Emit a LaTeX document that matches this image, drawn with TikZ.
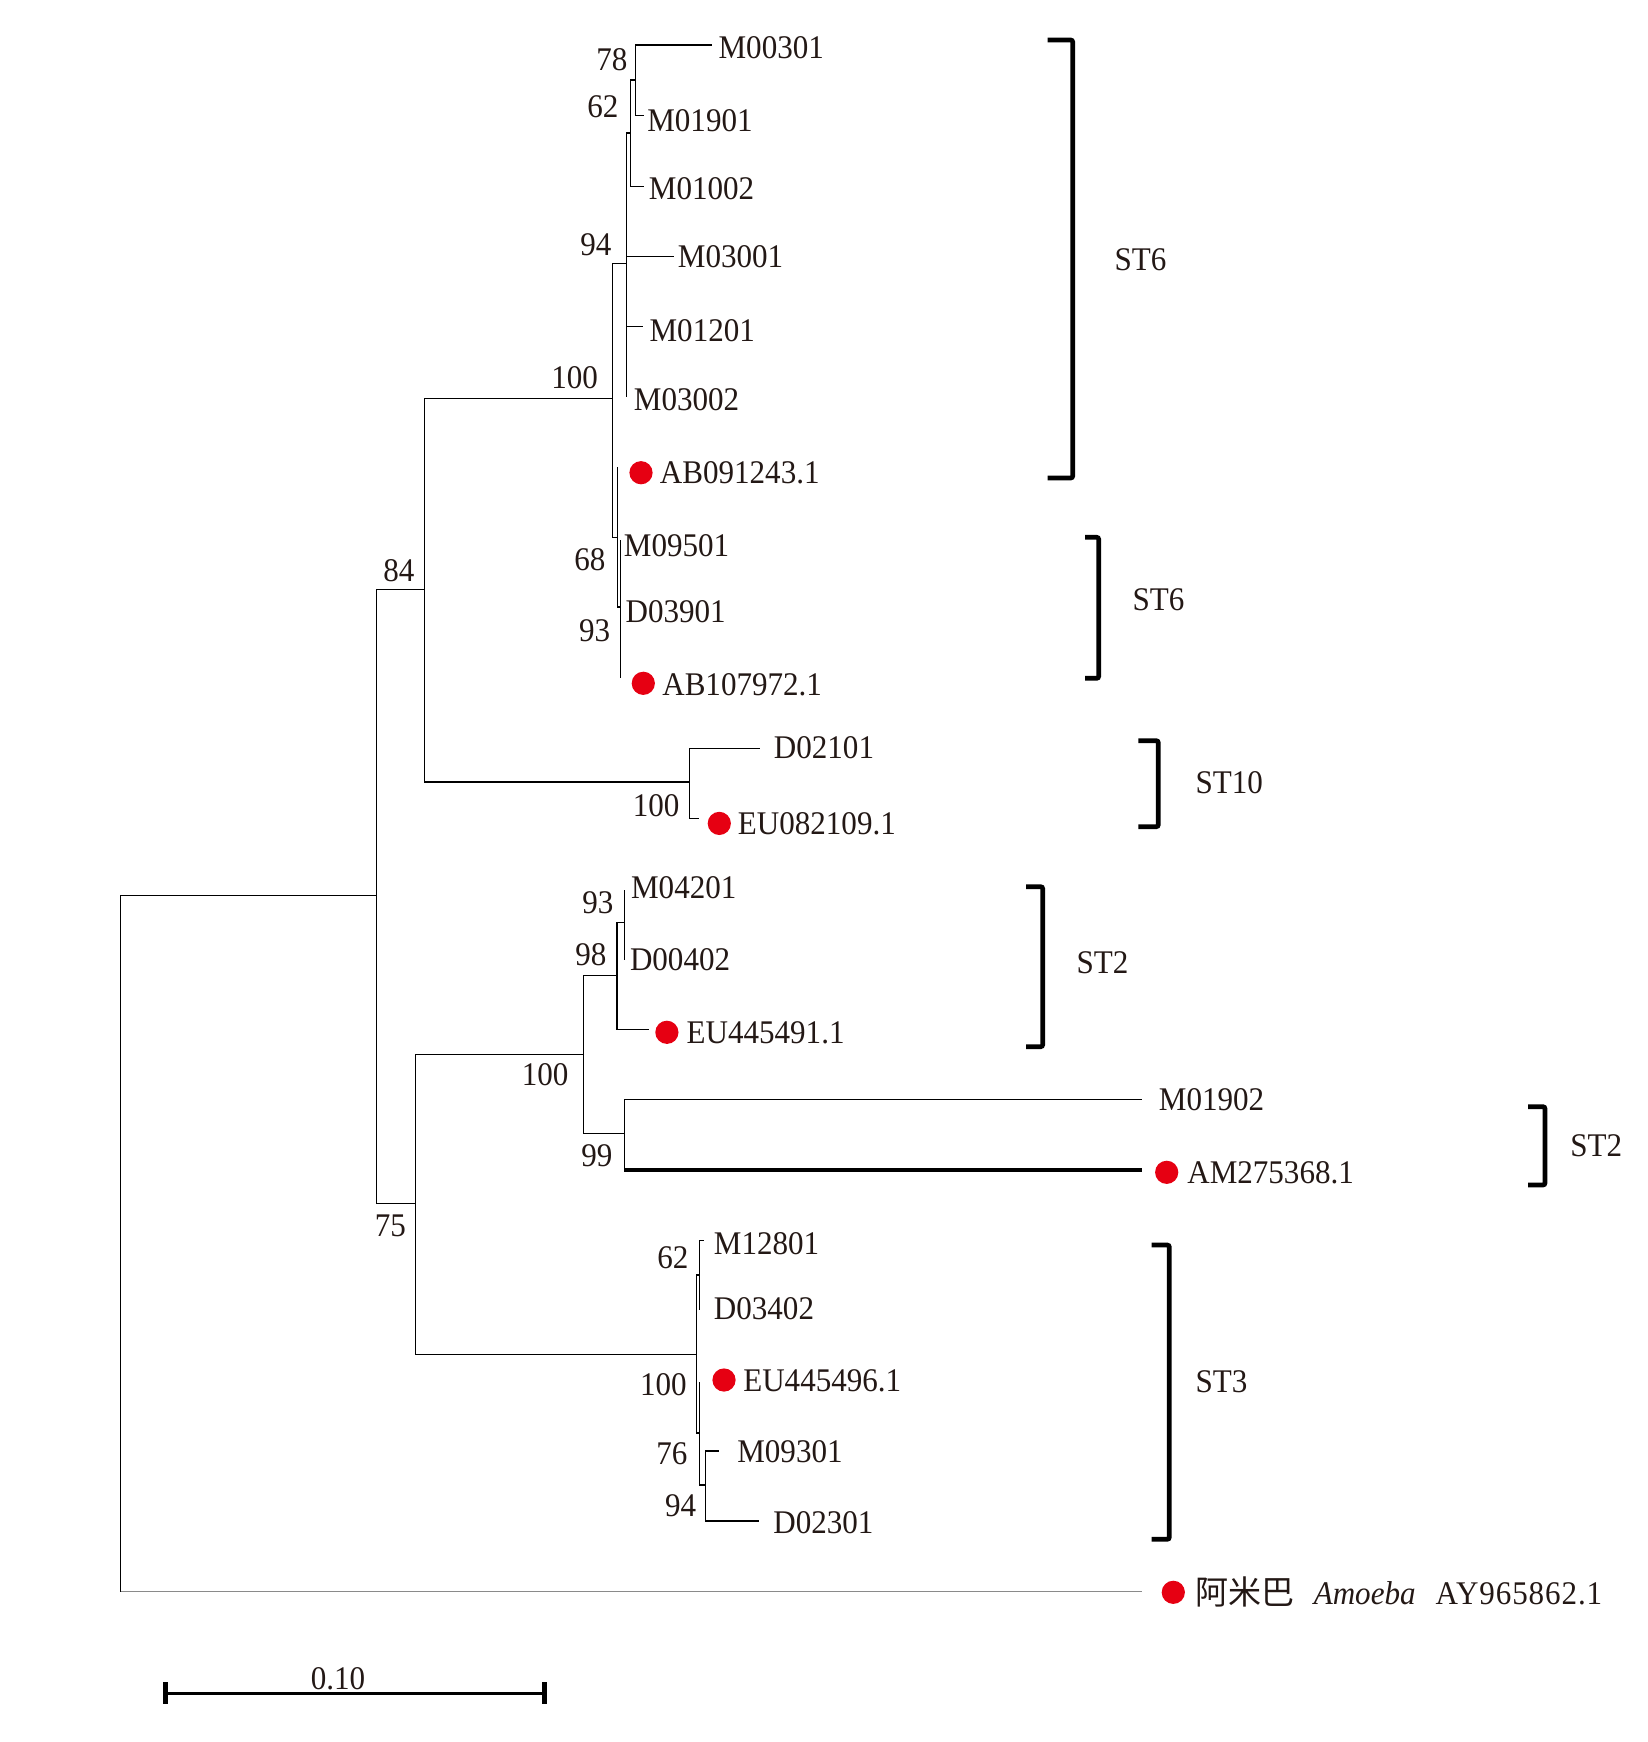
\documentclass[tikz,border=0pt]{standalone}
\usepackage{fontspec}
\setmainfont{Liberation Serif}[FakeStretch=0.94]
\newfontfamily\cjk{Noto Sans CJK SC}
\usetikzlibrary{positioning}
\definecolor{txt}{HTML}{231815}
\definecolor{dotred}{HTML}{E60012}
\definecolor{outgray}{HTML}{8A8A8A}

\begin{document}
\begin{tikzpicture}[x=0.01cm, y=-0.01cm, line width=0.35pt,
    every node/.style={inner sep=0pt, text=txt, font=\fontsize{9.4}{11}\selectfont},
    leaf/.style={anchor=base west},
    boot/.style={anchor=base east},
    dot/.style={circle, fill=dotred, minimum size=2.32mm},
    clade/.style={line width=1.35pt, rounded corners=0.6pt},
    thickbranch/.style={line width=1.1pt}]
  \useasboundingbox (0,0) rectangle (1647,1742);

  % internal nodes
  \coordinate (rt) at (120.5,1243);
  \coordinate (nA) at (376.7,895.4);
  \coordinate (n84) at (424.4,589.6);
  \coordinate (n100a) at (612.7,398.5);
  \coordinate (n94) at (626.7,263.3);
  \coordinate (n62) at (630.7,133);
  \coordinate (n78) at (635.7,80);
  \coordinate (n68) at (617.3,537.3);
  \coordinate (n93) at (620.7,607);
  \coordinate (n100c) at (689.3,782);
  \coordinate (n75) at (415.8,1203.3);
  \coordinate (n100d) at (583.4,1054.3);
  \coordinate (n98) at (617.1,975.7);
  \coordinate (n93b) at (624.4,922.3);
  \coordinate (n99) at (624.4,1133.3);
  \coordinate (n100e) at (696.7,1354.3);
  \coordinate (n62b) at (699.3,1275);
  \coordinate (n76) at (699.3,1433);
  \coordinate (n94b) at (705.3,1485);

  % branch tips
  \coordinate (eM00301) at (712,45);
  \coordinate (eM01901) at (644,115.7);
  \coordinate (eM01002) at (644,186.7);
  \coordinate (eM03001) at (674,256.7);
  \coordinate (eM01201) at (643.3,326.7);
  \coordinate (eM03002) at (626.7,396.7);
  \coordinate (eAB091243) at (617.3,467.3);
  \coordinate (eM09501) at (620.7,540);
  \coordinate (eAB107972) at (620.7,678);
  \coordinate (eD02101) at (760,748.3);
  \coordinate (eEU082109) at (699.3,818.3);
  \coordinate (eM04201) at (624.4,890);
  \coordinate (eD00402) at (624.4,960);
  \coordinate (eEU445491) at (649.3,1029.3);
  \coordinate (eM01902) at (1141.7,1099.3);
  \coordinate (eAM275368) at (1141.7,1170);
  \coordinate (eM12801) at (704,1240.7);
  \coordinate (eD03402) at (699.3,1310);
  \coordinate (eEU445496) at (699.3,1381.7);
  \coordinate (eM09301) at (719.3,1451);
  \coordinate (eD02301) at (759.3,1521);
  \coordinate (eAY965862) at (1141.7,1591.7);

  % branches
  \draw (rt) |- (nA);
  \draw (rt) -- (rt |- eAY965862);
  \draw[outgray] (rt |- eAY965862) -- (eAY965862);
  \draw (nA) |- (n84) (nA) |- (n75);
  \draw (n84) |- (n100a) (n84) |- (n100c);
  \draw (n100a) |- (n94) (n100a) |- (n68);
  \draw (n94) |- (n62) (n94) |- (eM03001) (n94) |- (eM01201) (n94) |- (eM03002);
  \draw (n62) |- (n78) (n62) |- (eM01002);
  \draw (n78) |- (eM00301) (n78) |- (eM01901);
  \draw (n68) |- (eAB091243) (n68) |- (n93);
  \draw (n93) |- (eM09501) (n93) |- (eAB107972);
  \draw (n100c) |- (eD02101) (n100c) |- (eEU082109);
  \draw (n75) |- (n100d) (n75) |- (n100e);
  \draw (n100d) |- (n98) (n100d) |- (n99);
  \draw (n98) |- (n93b) (n98) |- (eEU445491);
  \draw (n93b) |- (eM04201) (n93b) |- (eD00402);
  \draw (n99) |- (eM01902) (n99) -- (n99 |- eAM275368);
  \draw[thickbranch] (n99 |- eAM275368) -- (eAM275368);
  \draw (n100e) |- (n62b) (n100e) |- (n76);
  \draw (n62b) |- (eM12801) (n62b) |- (eD03402);
  \draw (n76) |- (eEU445496) (n76) |- (n94b);
  \draw (n94b) |- (eM09301) (n94b) |- (eD02301);

  % bootstrap values
  \node[boot] (b78) at (628,70) {78};
  \node[boot] (b62) at (619,117) {62};
  \node[boot] (b94) at (612,255) {94};
  \node[boot] (b100a) at (598.6,388) {100};
  \node[boot] (b68) at (606,570) {68};
  \node[boot] (b93) at (610.7,641.7) {93};
  \node[boot] (b84) at (415,581.5) {84};
  \node[boot] (b100c) at (680,816.7) {100};
  \node[boot] (b93b) at (614,913.3) {93};
  \node[boot] (b98) at (607,965.7) {98};
  \node[boot] (b100d) at (569,1085) {100};
  \node[boot] (b99) at (613,1166.7) {99};
  \node[boot] (b75) at (406.6,1236.7) {75};
  \node[boot] (b62b) at (689,1268.3) {62};
  \node[boot] (b100e) at (687.3,1395.7) {100};
  \node[boot] (b76) at (688,1464.3) {76};
  \node[boot] (b94b) at (696.7,1516.7) {94};

  % taxa
  \node[leaf] (tM00301) at (718,58) {M00301};
  \node[leaf] (tM01901) at (646.7,131) {M01901};
  \node[leaf] (tM01002) at (648.3,199) {M01002};
  \node[leaf] (tM03001) at (677.3,267.7) {M03001};
  \node[leaf] (tM01201) at (649,341.7) {M01201};
  \node[leaf] (tM03002) at (633.3,410) {M03002};
  \node[dot] (dAB091243) at (641,472.7) {};
  \node[leaf] (tAB091243) at (659.3,483.3) {AB091243.1};
  \node[leaf] (tM09501) at (623.3,556.7) {M09501};
  \node[leaf] (tD03901) at (625,622.7) {D03901};
  \node[dot] (dAB107972) at (643.3,683.3) {};
  \node[leaf] (tAB107972) at (661.7,695) {AB107972.1};
  \node[leaf] (tD02101) at (773.3,758.3) {D02101};
  \node[dot] (dEU082109) at (719.3,823.4) {};
  \node[leaf] (tEU082109) at (737.3,834) {EU082109.1};
  \node[leaf] (tM04201) at (630.5,898.3) {M04201};
  \node[leaf] (tD00402) at (629.4,970.7) {D00402};
  \node[dot] (dEU445491) at (666.9,1032.3) {};
  \node[leaf] (tEU445491) at (686,1043.3) {EU445491.1};
  \node[leaf] (tM01902) at (1158.3,1110.7) {M01902};
  \node[dot] (dAM275368) at (1166.7,1172.3) {};
  \node[leaf] (tAM275368) at (1186.7,1183.3) {AM275368.1};
  \node[leaf] (tM12801) at (713.3,1254.3) {M12801};
  \node[leaf] (tD03402) at (713.3,1319.3) {D03402};
  \node[dot] (dEU445496) at (724,1380) {};
  \node[leaf] (tEU445496) at (742.7,1391.7) {EU445496.1};
  \node[leaf] (tM09301) at (736.7,1462.3) {M09301};
  \node[leaf] (tD02301) at (772.7,1533.3) {D02301};
  \node[dot] (dAY965862) at (1173.3,1592.3) {};
  \node[leaf] (tAY965862) at (1195,1604) {{\cjk 阿米巴}\hspace{1.9mm}\textit{Amoeba}\hspace{2mm}{\addfontfeature{LetterSpace=2.7}AY965862.1}};

  % subtype brackets
  \draw[clade] (1047.7,40) -- (1072.7,40) -- (1072.7,478) -- (1047.7,478);
  \node[leaf] (st6a) at (1114,270.7) {ST6};
  \draw[clade] (1085,537.3) -- (1098.7,537.3) -- (1098.7,678.3) -- (1085,678.3);
  \node[leaf] (st6b) at (1132,610) {ST6};
  \draw[clade] (1138.3,740.7) -- (1158.3,740.7) -- (1158.3,826.7) -- (1138.3,826.7);
  \node[leaf] (st10) at (1195,793.3) {ST10};
  \draw[clade] (1026,886.7) -- (1042.7,886.7) -- (1042.7,1046.7) -- (1026,1046.7);
  \node[leaf] (st2a) at (1076,973.3) {ST2};
  \draw[clade] (1528,1106.7) -- (1545,1106.7) -- (1545,1185) -- (1528,1185);
  \node[leaf] (st2b) at (1569.8,1156.7) {ST2};
  \draw[clade] (1151.7,1245) -- (1169.3,1245) -- (1169.3,1539.3) -- (1151.7,1539.3);
  \node[leaf] (st3) at (1195,1392.7) {ST3};

  % scale bar
  \coordinate (sbL) at (165.5,1693.3);
  \coordinate (sbR) at (544.5,1693.3);
  \draw[line width=0.95pt] (sbL) -- (sbR);
  \draw[line width=1.35pt] (165.5,1682.3) -- (165.5,1704) (544.5,1682.3) -- (544.5,1704);
  \node[anchor=base] (tScale) at (338,1689.3) {0.10};
\end{tikzpicture}
\end{document}
